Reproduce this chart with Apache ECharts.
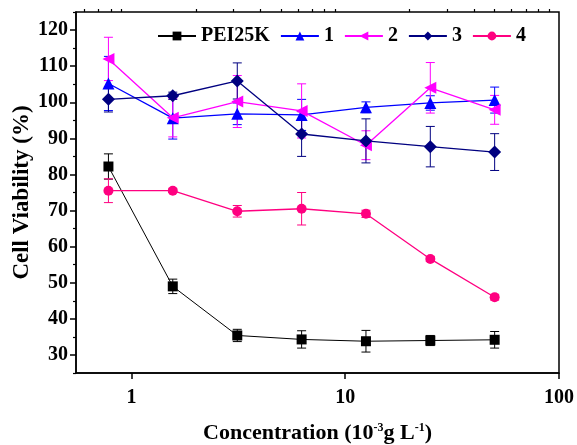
<!DOCTYPE html>
<html>
<head>
<meta charset="utf-8">
<script src="https://cdn.jsdelivr.net/npm/echarts@6/dist/echarts.min.js"></script>
<style>
  html, body { margin: 0; padding: 0; background: #fff; }
  #chart { width: 577px; height: 445px; }
</style>
</head>
<body>
<div id="chart"></div>
<script>
// concentration (10^-3 g/L)
const conc = [0.78, 1.56, 3.125, 6.25, 12.5, 25, 50];

const pei = [82.2, 49.0, 35.4, 34.3, 33.8, 34.0, 34.2];
const peiErr = [3.5, 2.0, 1.7, 2.4, 3.0, 1.4, 2.3];
const s1 = [105.2, 95.6, 96.8, 96.5, 98.6, 99.8, 100.6];
const s1Err = [7.5, 5.8, 3.0, 4.3, 1.5, 2.0, 3.6];
const s2 = [112.0, 95.7, 100.2, 97.6, 88.1, 104.0, 97.9];
const s2Err = [6.0, 5.3, 7.2, 7.5, 4.0, 7.0, 4.0];
const s3 = [100.8, 101.8, 105.9, 91.2, 89.3, 87.7, 86.2];
const s3Err = [3.5, 1.0, 5.0, 6.2, 6.1, 5.6, 5.1];
const s4 = [75.5, 75.5, 69.8, 70.5, 69.1, 56.6, 46.0];
const s4Err = [3.3, 0.5, 1.6, 4.5, 1.0, 0.7, 0.8];

const yLabels = [30, 40, 50, 60, 70, 80, 90, 100, 110, 120];
const yMinor = [25, 35, 45, 55, 65, 75, 85, 95, 105, 115, 125];
const xLabels = [1, 10, 100];
const xMinor = [0.6, 0.7, 0.8, 0.9, 2, 3, 4, 5, 6, 7, 8, 9, 20, 30, 40, 50, 60, 70, 80, 90];

const font = 'Liberation Serif';
const chart = echarts.init(document.getElementById('chart'));

const defs = [
  { name: 'PEI25K', vals: pei, err: peiErr, color: '#000000', symbol: 'rect', size: 10, rot: 0, lw: 1 },
  { name: '1', vals: s1, err: s1Err, color: '#0000ff', symbol: 'triangle', size: 12, rot: 0, lw: 1.3 },
  { name: '2', vals: s2, err: s2Err, color: '#ff00ff', symbol: 'triangle', size: 12, rot: 90, lw: 1.3 },
  { name: '3', vals: s3, err: s3Err, color: '#000080', symbol: 'diamond', size: 13, rot: 0, lw: 1.3 },
  { name: '4', vals: s4, err: s4Err, color: '#ff0080', symbol: 'circle', size: 10, rot: 0, lw: 1.3 }
];

function errRender(color) {
  return function (params, api) {
    const x = api.value(0);
    const lo = api.coord([x, api.value(1)]);
    const hi = api.coord([x, api.value(2)]);
    const w = 4.5;
    const st = { stroke: color, lineWidth: 1 };
    return {
      type: 'group',
      children: [
        { type: 'line', shape: { x1: hi[0], y1: hi[1], x2: lo[0], y2: lo[1] }, style: st },
        { type: 'line', shape: { x1: hi[0] - w, y1: hi[1], x2: hi[0] + w, y2: hi[1] }, style: st },
        { type: 'line', shape: { x1: lo[0] - w, y1: lo[1], x2: lo[0] + w, y2: lo[1] }, style: st }
      ]
    };
  };
}

const series = [];
defs.forEach(d => {
  series.push({
    type: 'custom',
    name: d.name + '_err',
    renderItem: errRender(d.color),
    data: conc.map((c, i) => [c, d.vals[i] - d.err[i], d.vals[i] + d.err[i]]),
    z: 2,
    silent: true
  });
});
defs.forEach(d => {
  series.push({
    type: 'line',
    name: d.name,
    data: conc.map((c, i) => [c, d.vals[i]]),
    symbol: d.symbol,
    symbolSize: d.size,
    symbolRotate: d.rot,
    lineStyle: { color: d.color, width: d.lw },
    itemStyle: { color: d.color },
    z: 3
  });
});

const xBase = {
  type: 'log',
  logBase: 10,
  min: 0.55,
  max: 100,
  splitLine: { show: false }
};

chart.setOption({
  animation: false,
  grid: {
    left: 76, right: 18, top: 12, bottom: 72,
    outerBoundsMode: 'none',
    show: true, borderColor: '#000', borderWidth: 1.5
  },
  legend: {
    data: defs.map(d => d.name),
    top: 21,
    left: 152,
    itemWidth: 38,
    itemHeight: 11,
    itemGap: 10,
    textStyle: { fontFamily: font, fontWeight: 'bold', fontSize: 20, color: '#000' }
  },
  xAxis: [
    Object.assign({}, xBase, {
      name: 'Concentration (10{sup|-3}g L{sup|-1})',
      nameLocation: 'middle',
      nameGap: 49,
      nameTextStyle: {
        fontFamily: font, fontWeight: 'bold', fontSize: 22, color: '#000',
        rich: { sup: { fontFamily: font, fontWeight: 'bold', fontSize: 12, verticalAlign: 'top', padding: [0, 0, 10, 0] } }
      },
      axisLine: { lineStyle: { color: '#000', width: 1.5 } },
      axisTick: { show: true, length: 6, lineStyle: { color: '#000', width: 1.5 }, customValues: xLabels },
      axisLabel: {
        customValues: xLabels, margin: 15,
        fontFamily: font, fontWeight: 'bold', fontSize: 20, color: '#000',
        formatter: v => String(v)
      }
    }),
    Object.assign({}, xBase, {
      axisLine: { show: false },
      axisTick: { show: true, length: 3, lineStyle: { color: '#000', width: 1.2 }, customValues: xMinor },
      axisLabel: { show: false }
    })
  ],
  yAxis: [
    {
      type: 'value',
      min: 25, max: 125,
      name: 'Cell Viability (%)',
      nameLocation: 'middle',
      nameGap: 42,
      nameMoveOverlap: false,
      nameTextStyle: { fontFamily: font, fontWeight: 'bold', fontSize: 23, color: '#000' },
      splitLine: { show: false },
      axisLine: { show: true, lineStyle: { color: '#000', width: 1.5 } },
      axisTick: { show: true, length: 6, lineStyle: { color: '#000', width: 1.5 }, customValues: yLabels },
      axisLabel: {
        customValues: yLabels, margin: 8,
        fontFamily: font, fontWeight: 'bold', fontSize: 20, color: '#000'
      }
    },
    {
      type: 'value',
      min: 25, max: 125,
      position: 'left',
      splitLine: { show: false },
      axisLine: { show: false },
      axisTick: { show: true, length: 3, lineStyle: { color: '#000', width: 1.2 }, customValues: yMinor },
      axisLabel: { show: false }
    }
  ],
  series: series
});
</script>
</body>
</html>
